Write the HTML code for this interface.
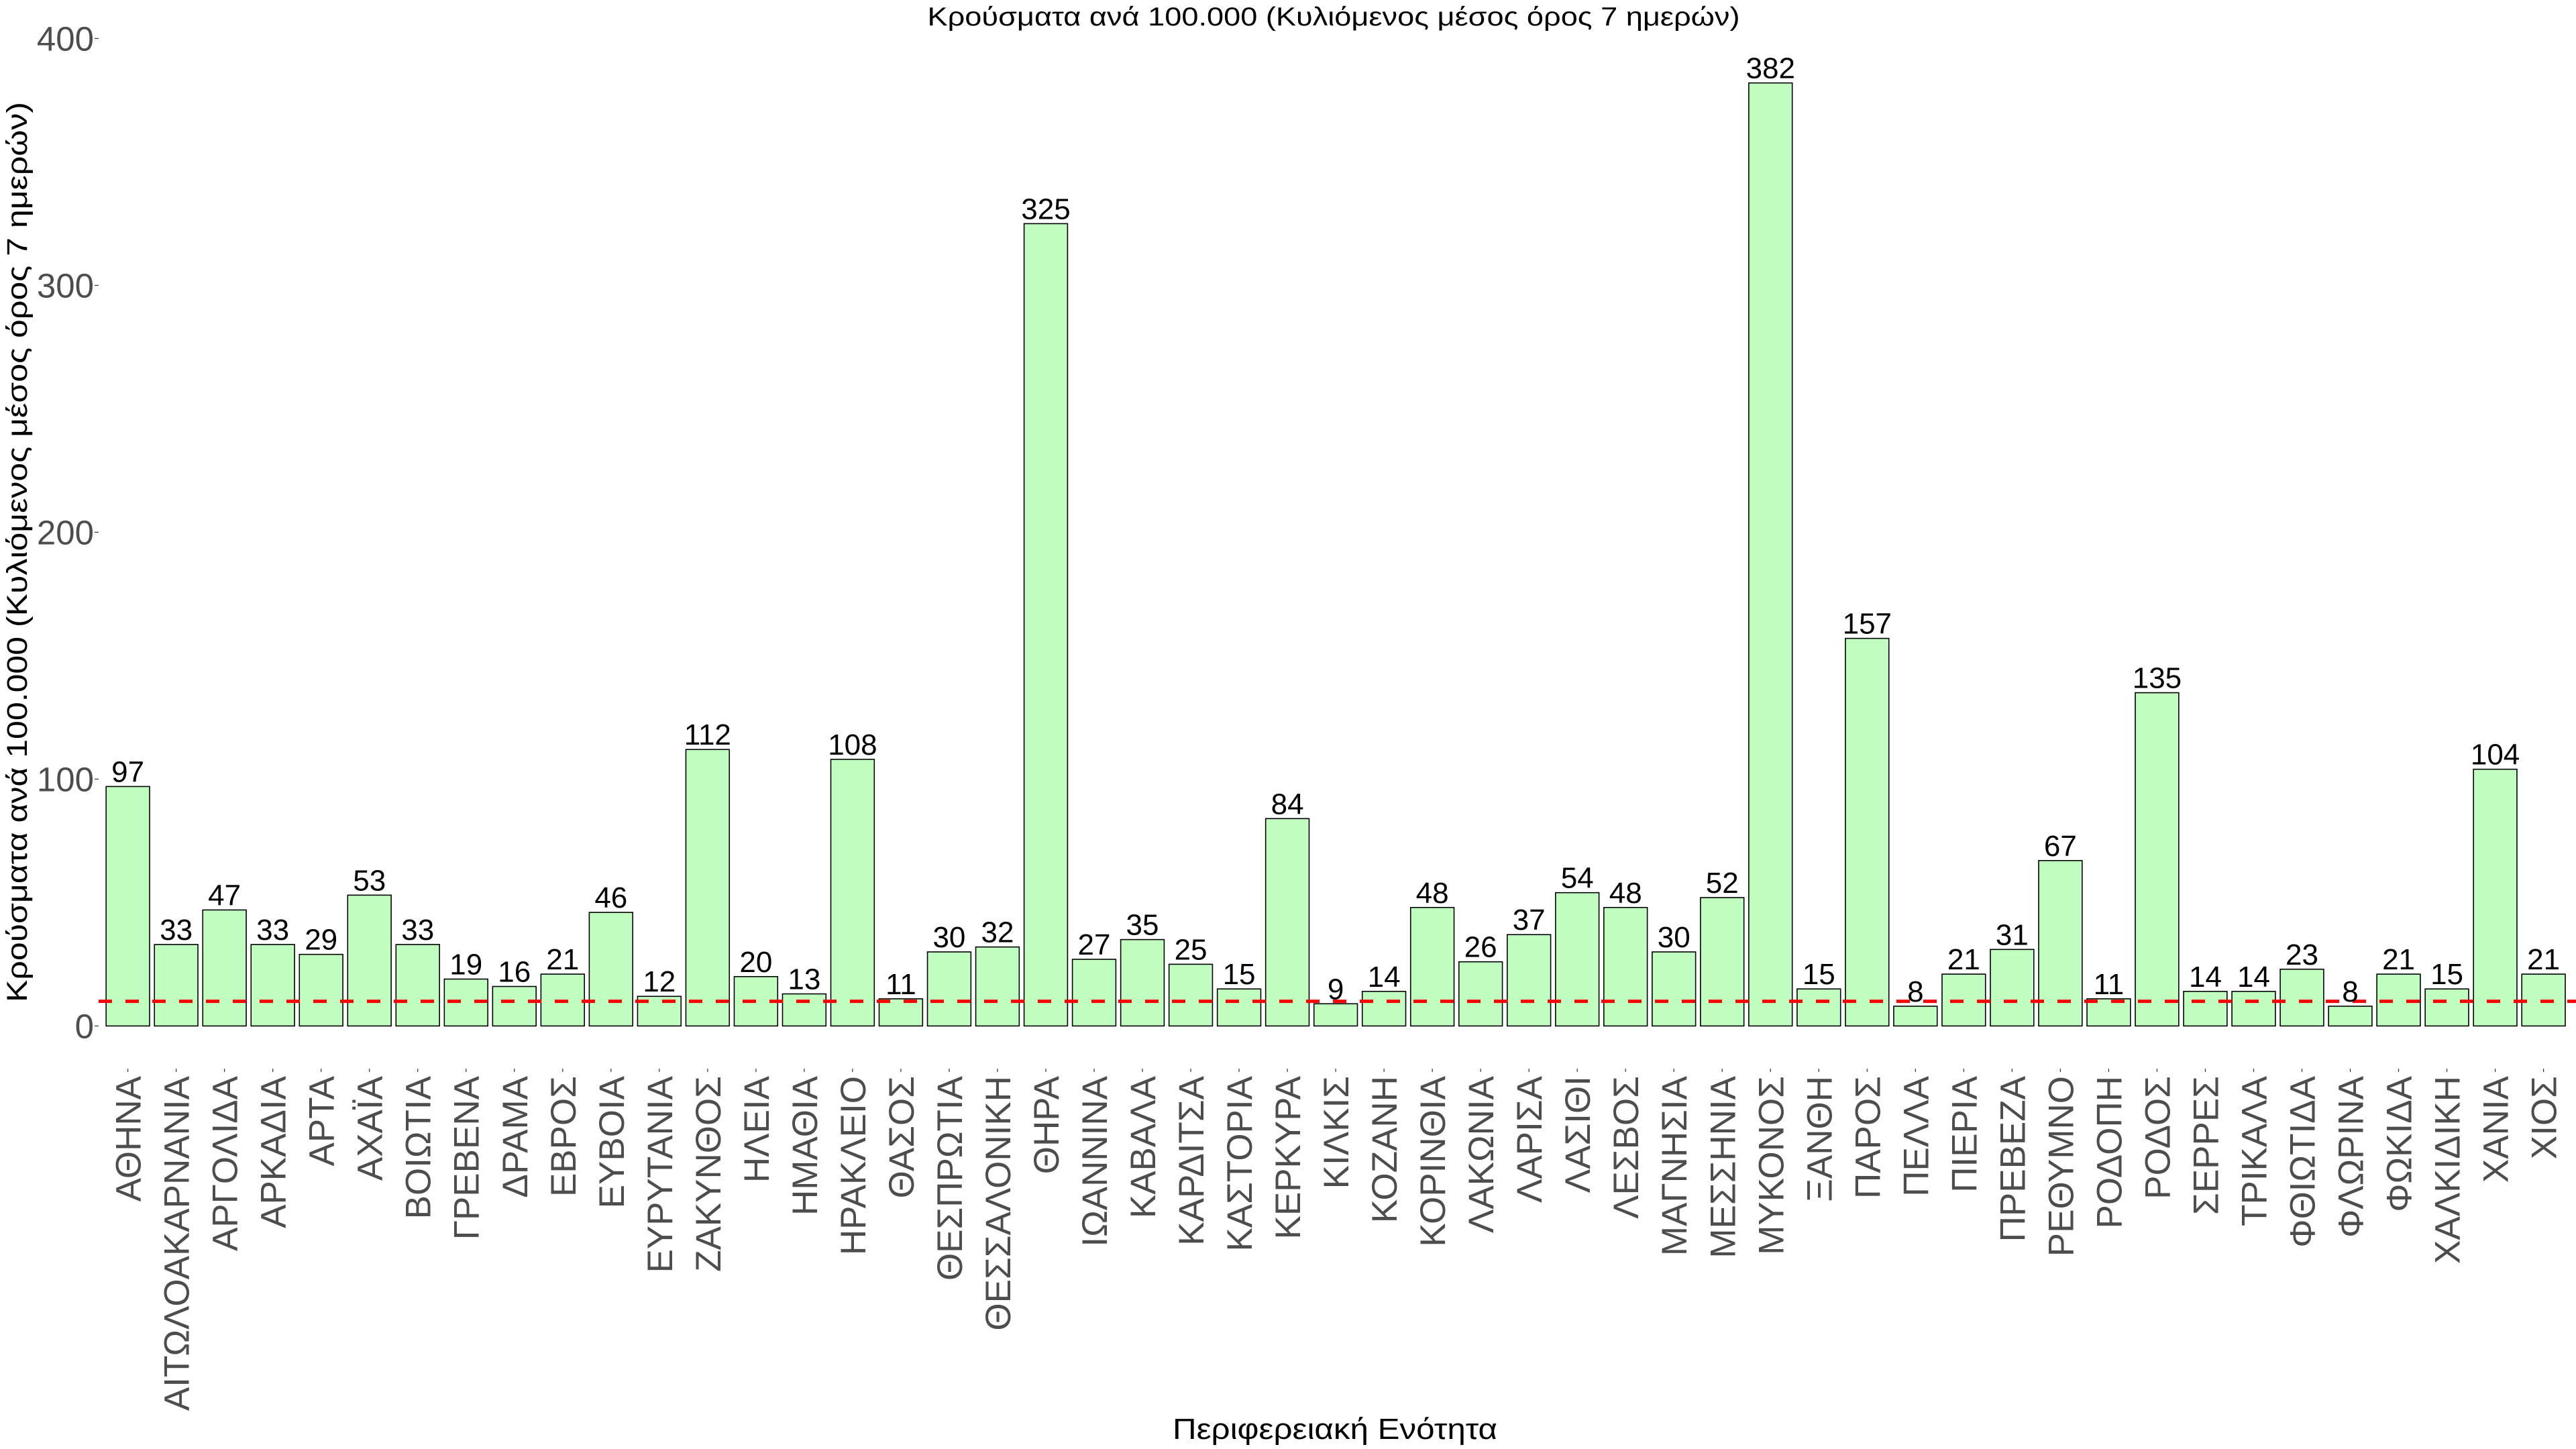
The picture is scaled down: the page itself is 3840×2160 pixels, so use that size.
<!DOCTYPE html>
<html><head><meta charset="utf-8"><style>
html,body{margin:0;padding:0;background:#fff;}
svg{display:block;font-family:"Liberation Sans",Arial,sans-serif;}
</style></head><body>
<svg id="chart" width="3840" height="2160" viewBox="0 0 3840 2160" xmlns="http://www.w3.org/2000/svg">
<rect width="3840" height="2160" fill="#fff"/>
<text x="1988" y="38" font-size="39" text-anchor="middle" textLength="1211" lengthAdjust="spacingAndGlyphs" fill="#000">Κρούσματα ανά 100.000 (Κυλιόμενος μέσος όρος 7 ημερών)</text>
<text transform="translate(40,823) rotate(-90)" font-size="43" text-anchor="middle" textLength="1342" lengthAdjust="spacingAndGlyphs" fill="#000">Κρούσματα ανά 100.000 (Κυλιόμενος μέσος όρος 7 ημερών)</text>
<text x="1990" y="2145" font-size="44" text-anchor="middle" textLength="484" lengthAdjust="spacingAndGlyphs" fill="#000">Περιφερειακή Ενότητα</text>
<g id="yaxis"></g>
<g id="bars"></g>
<g id="xaxis"></g>
<g id="refline"></g>
<g id="labels"></g>
</svg>
<script>
const categories = ["ΑΘΗΝΑ","ΑΙΤΩΛΟΑΚΑΡΝΑΝΙΑ","ΑΡΓΟΛΙΔΑ","ΑΡΚΑΔΙΑ","ΑΡΤΑ","ΑΧΑΪΑ","ΒΟΙΩΤΙΑ","ΓΡΕΒΕΝΑ","ΔΡΑΜΑ","ΕΒΡΟΣ","ΕΥΒΟΙΑ","ΕΥΡΥΤΑΝΙΑ","ΖΑΚΥΝΘΟΣ","ΗΛΕΙΑ","ΗΜΑΘΙΑ","ΗΡΑΚΛΕΙΟ","ΘΑΣΟΣ","ΘΕΣΠΡΩΤΙΑ","ΘΕΣΣΑΛΟΝΙΚΗ","ΘΗΡΑ","ΙΩΑΝΝΙΝΑ","ΚΑΒΑΛΑ","ΚΑΡΔΙΤΣΑ","ΚΑΣΤΟΡΙΑ","ΚΕΡΚΥΡΑ","ΚΙΛΚΙΣ","ΚΟΖΑΝΗ","ΚΟΡΙΝΘΙΑ","ΛΑΚΩΝΙΑ","ΛΑΡΙΣΑ","ΛΑΣΙΘΙ","ΛΕΣΒΟΣ","ΜΑΓΝΗΣΙΑ","ΜΕΣΣΗΝΙΑ","ΜΥΚΟΝΟΣ","ΞΑΝΘΗ","ΠΑΡΟΣ","ΠΕΛΛΑ","ΠΙΕΡΙΑ","ΠΡΕΒΕΖΑ","ΡΕΘΥΜΝΟ","ΡΟΔΟΠΗ","ΡΟΔΟΣ","ΣΕΡΡΕΣ","ΤΡΙΚΑΛΑ","ΦΘΙΩΤΙΔΑ","ΦΛΩΡΙΝΑ","ΦΩΚΙΔΑ","ΧΑΛΚΙΔΙΚΗ","ΧΑΝΙΑ","ΧΙΟΣ"];
const values = [97,33,47,33,29,53,33,19,16,21,46,12,112,20,13,108,11,30,32,325,27,35,25,15,84,9,14,48,26,37,54,48,30,52,382,15,157,8,21,31,67,11,135,14,14,23,8,21,15,104,21];
const yTicks = [0,100,200,300,400];
const threshold = [10];

const NS = "http://www.w3.org/2000/svg";
const x0 = 190.6, pitch = 72.02, barW = 64.8;
const yZero = 1529.4, yPer = 3.68;
const panelLeft = 147, panelRight = 3840;
function xPos(i){ return x0 + i*pitch; }
function yPos(v){ return yZero - v*yPer; }
function mk(tag, attrs, parent){
  const e = document.createElementNS(NS, tag);
  for (const k in attrs) e.setAttribute(k, attrs[k]);
  parent.appendChild(e);
  return e;
}
const yaxis = document.getElementById('yaxis');
yTicks.forEach(t => {
  const y = yPos(t);
  const tl = mk('text', {x:140, y:y+18, 'font-size':51, 'text-anchor':'end', fill:'#4d4d4d'}, yaxis);
  
  
  tl.textContent = t;
  const tk = mk('line', {x1:141, x2:147, y1:y, y2:y, stroke:'#333', 'stroke-width':1.2}, yaxis);
  
  
});
const bars = document.getElementById('bars');
const xaxis = document.getElementById('xaxis');
const labels = document.getElementById('labels');
values.forEach((v, i) => {
  const cx = xPos(i);
  const r = mk('rect', {x:cx-barW/2, y:yPos(v), width:barW, height:v*yPer, fill:'#C1FFC1', stroke:'#000', 'stroke-width':1.6}, bars);
  
  
  const lb = mk('text', {x:cx, y:yPos(v)-7, 'font-size':44, 'text-anchor':'middle', fill:'#000'}, labels);
  
  
  lb.textContent = v;
  const tk = mk('line', {x1:cx, x2:cx, y1:1593, y2:1598, stroke:'#333', 'stroke-width':1.2}, xaxis);
  
  
  const xl = mk('text', {transform:'translate('+(cx+19)+',1604) rotate(-90)', 'font-size':53, 'text-anchor':'end', fill:'#4d4d4d'}, xaxis);
  
  
  xl.textContent = categories[i];
});
const ref = document.getElementById('refline');
threshold.forEach(t => {
  const l = mk('line', {x1:panelLeft, x2:panelRight, y1:yPos(t), y2:yPos(t), stroke:'#ff0000', 'stroke-width':5, 'stroke-dasharray':'20 20'}, ref);
  
  
});
</script>
</body></html>
